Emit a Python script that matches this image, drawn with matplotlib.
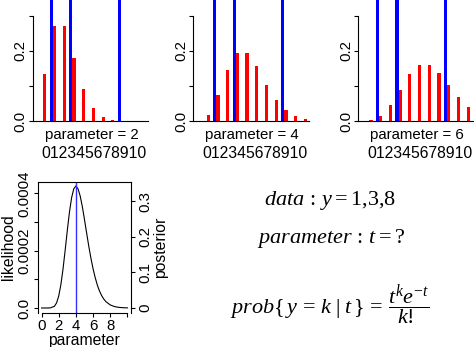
"""Poisson model sketch: pmf for three parameter values, likelihood/posterior, formulas."""
import numpy as np
import matplotlib
matplotlib.use("Agg")
import matplotlib.pyplot as plt

plt.rcParams["font.family"] = ["Liberation Sans", "DejaVu Sans"]
plt.rcParams["mathtext.fontset"] = "custom"
plt.rcParams["mathtext.rm"] = "Liberation Serif"
plt.rcParams["mathtext.it"] = "Liberation Serif:italic"

# ---- data ----
counts = list(range(11))
observed = [1, 3, 8]
parameters = [2, 4, 6]
pmf_t2 = [0.135, 0.271, 0.271, 0.180, 0.090, 0.036, 0.012, 0.0034, 0.0009, 0.0002, 0.00004]
pmf_t4 = [0.018, 0.073, 0.147, 0.195, 0.195, 0.156, 0.104, 0.060, 0.030, 0.013, 0.005]
pmf_t6 = [0.0025, 0.015, 0.045, 0.089, 0.134, 0.161, 0.161, 0.138, 0.103, 0.069, 0.041]

t_grid = [0.0, 0.5, 1.0, 1.5, 1.75, 2.0, 2.25, 2.5, 2.75, 3.0, 3.25, 3.5, 3.75, 4.0,
          4.25, 4.5, 4.75, 5.0, 5.25, 5.5, 5.75, 6.0, 6.25, 6.5, 6.75, 7.0, 7.25,
          7.5, 8.0, 8.5, 9.0, 9.5, 10.0]
likelihood = [0.0, 0.0, 2.0e-7, 5.9e-6, 1.79e-5, 4.19e-5, 8.14e-5, 1.36e-4, 2.02e-4,
              2.71e-4, 3.35e-4, 3.85e-4, 4.16e-4, 4.26e-4, 4.16e-4, 3.91e-4, 3.54e-4,
              3.09e-4, 2.62e-4, 2.16e-4, 1.74e-4, 1.37e-4, 1.06e-4, 7.98e-5, 5.93e-5,
              4.33e-5, 3.12e-5, 2.21e-5, 1.07e-5, 4.95e-6, 2.19e-6, 9.4e-7, 3.9e-7]
t_hat = 4

W, H = 474, 347
fig = plt.figure(figsize=(W / 100, H / 100), dpi=100)


def rect(l, t, r, b):
    return [l / W, 1 - b / H, (r - l) / W, (b - t) / H]


def ftext(x, y, s, **kw):
    fig.text(x / W, 1 - y / H, s, **kw)


FS = 10.8

# ---- top row: pmf bars (red) next to observed data (blue) ----
panels = [  # (left px, right px, xlim)
    (32.5, 148.0, (-1.30, 34.35)),
    (192.8, 308.5, (-2.26, 33.45)),
    (358.0, 474.0, (-1.52, 34.30)),
]
for (left, right, xl), pmf, par in zip(panels, [pmf_t2, pmf_t4, pmf_t6], parameters):
    ax = fig.add_axes(rect(left, 0, right, 121))
    k = np.array(counts)
    data_h = [1.0 if c in observed else 0.0 for c in counts]
    ax.bar(1.5 + 3 * k, data_h, width=1.0, color="#0000FF", linewidth=0)
    ax.bar(2.5 + 3 * k, pmf, width=1.0, color="#FF0000", linewidth=0)
    ax.set_xlim(*xl)
    ax.set_ylim(0, 0.3457)
    for s in ("top", "right"):
        ax.spines[s].set_visible(False)
    ax.spines["left"].set_bounds(0, 0.3)
    for s in ("left", "bottom"):
        ax.spines[s].set_linewidth(0.8)
    ax.set_xticks([])
    ax.set_yticks([0, 0.1, 0.2, 0.3])
    ax.set_yticklabels(["0.0", "", "0.2", ""], rotation=90, va="center", fontsize=FS)
    ax.tick_params(axis="y", length=3, width=0.8, pad=0.5)
    ax.patch.set_visible(False)
    ftext(left + 59.3, 135, f"parameter = {par}", ha="center", va="center", fontsize=FS)
    # the count labels run together into one strip under the bars
    ftext(left + 62.0, 153.5, "".join(str(c) for c in counts),
          ha="center", va="center", fontsize=11.3)

# ---- bottom left: likelihood with posterior scale ----
ax = fig.add_axes(rect(37.7, 181.7, 131.0, 313.0))
ax.plot(t_grid, likelihood, color="black", lw=0.8)
ax.axvline(t_hat, color="#3030FF", lw=1.0)
lo, hi = -0.0000175, 0.000441
ax.set_xlim(-0.45, 10.42)
ax.set_ylim(lo, hi)
ax.spines["bottom"].set_visible(False)
for s in ("left", "top", "right"):
    ax.spines[s].set_linewidth(0.8)
ax.set_xticks([0, 2, 4, 6, 8, 10])
ax.set_xticklabels(["0", "2", "4", "6", "8", ""], fontsize=FS)
ax.set_yticks([0, 0.0001, 0.0002, 0.0003, 0.0004])
ax.set_yticklabels(["0.0", "", "0.0002", "", "0.0004"], rotation=90, va="center", fontsize=FS)
ax.tick_params(length=3, width=0.8, pad=1.5)
ax.set_ylabel("likelihood", fontsize=FS + 0.5, labelpad=1)
ax.set_xlabel("parameter", fontsize=FS + 0.5, labelpad=0)
# bottom axis line only spans the ticks
ax.plot([0, 10], [lo, lo], color="black", lw=0.8, clip_on=False)

scale = 1.0 / np.trapezoid(likelihood, t_grid)
ax2 = ax.twinx()
ax2.set_ylim(lo * scale, hi * scale)
ax2.set_yticks([0, 0.1, 0.2, 0.3])
ax2.set_yticklabels(["0", "0.1", "0.2", "0.3"], rotation=90, va="center", fontsize=FS)
ax2.tick_params(length=3, width=0.8, pad=2)
ax2.set_ylabel("posterior", fontsize=FS + 0.5, labelpad=1)
for s in ax2.spines.values():
    s.set_visible(False)

# ---- bottom right: formulas ----
MS = 16
ftext(330, 201, r"$data\,:\,y=1{,}3{,}8$", ha="center", va="center", fontsize=MS)
ftext(331, 238, r"$parameter\,:\,t=?$", ha="center", va="center", fontsize=MS)
ftext(330, 306, r"$prob\{\,y\,=\,k\;|\;t\,\}\,=\,\dfrac{t^{k}e^{-t}}{k!}$",
      ha="center", va="center", fontsize=MS)

fig.savefig("out.png", dpi=100)
